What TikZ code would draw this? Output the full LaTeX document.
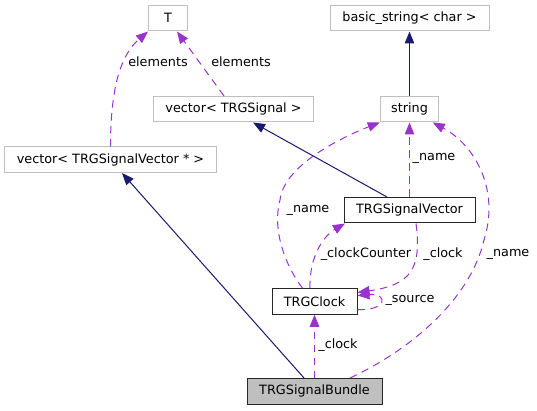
\documentclass[tikz,border=0pt]{standalone}
\usepackage{fontspec}
\setmainfont{DejaVu Sans}
\usetikzlibrary{arrows.meta}
\definecolor{inhcol}{HTML}{191970}
\definecolor{usecol}{HTML}{9A32CD}
\definecolor{graybox}{HTML}{BFBFBF}
\begin{document}
\begin{tikzpicture}[x=1pt,y=-1pt,
  font=\fontsize{12.8}{15}\selectfont,
  boxbase/.style={rectangle, inner sep=0pt, minimum height=25.5pt, line width=1pt},
  gbox/.style={boxbase, draw=graybox, fill=white},
  bbox/.style={boxbase, draw=black!85, fill=white},
  curbox/.style={boxbase, draw=black!85, fill=graybox},
  inh/.style={draw=inhcol, line width=1pt, -{Triangle[length=12pt,width=9.5pt]}},
  use/.style={draw=usecol, line width=1pt, dash pattern=on 7.5pt off 5.5pt, -{Triangle[length=12pt,width=9.5pt]}},
  lbl/.style={inner sep=0pt, text=black}]
\useasboundingbox (0,0) rectangle (537,411);

% nodes
\node[gbox, minimum width=39pt]  (T)      at (168,18.25)     {T};
\node[gbox, minimum width=159pt] (basic)  at (409.5,18.25)   {basic\_string< char >};
\node[gbox, minimum width=160pt] (vecSig) at (233.5,109.25)  {vector< TRGSignal >};
\node[gbox, minimum width=58.5pt](string) at (409.5,109.25)  {string};
\node[gbox, minimum width=212pt] (vecSV)  at (110.5,159.75)  {vector< TRGSignalVector * >};
\node[bbox, minimum width=131pt] (SV)     at (409.5,210.25)  {TRGSignalVector};
\node[bbox, minimum width=85pt]  (Clock)  at (314.5,301.5)   {TRGClock};
\node[curbox, minimum width=135pt](Bundle) at (314.5,391.25) {TRGSignalBundle};

% inheritance
\draw[inh] (string.north) -- (basic.south);
\draw[inh] ([xshift=-22.5pt]SV.north) -- ([xshift=19.5pt]vecSig.south);
\draw[inh] ([xshift=-10.5pt]Bundle.north) -- ([xshift=11.5pt]vecSV.south);

% usage
\draw[use] (vecSV.north) .. controls +(0,-57) and +(-28,24) .. (T.south west);
\draw[use] ([xshift=-9.5pt]vecSig.north) -- ([xshift=9pt]T.south);
\draw[use] (SV.north) -- (string.south);
\draw[use] ([xshift=-12pt]Clock.north) .. controls (285,265) and (272,230) .. (280,200)
  .. controls (284,163) and (350,134) .. (string.south west);
\draw[use] ([xshift=35.5pt]Bundle.north) .. controls (410,350) and (470,300) .. (484,240)
  .. controls (500,190) and (475,145) .. ([xshift=23.25pt]string.south);
\draw[use] ([xshift=-4.5pt]Clock.north) .. controls (309,255) and (325,235) .. ([xshift=1.5pt]SV.south west);
\draw[use] ([xshift=6.5pt]SV.south) .. controls (422,270) and (410,285) .. ([yshift=9pt]Clock.east);
\draw[use] ([yshift=-8pt]Clock.east) .. controls (388,311) and (388,293) .. ([yshift=6pt]Clock.east);
\draw[use] (Bundle.north) -- (Clock.south);

% labels
\node[lbl] (l1) at (158,62)  {elements};
\node[lbl] (l2) at (241,62)  {elements};
\node[lbl] (l3) at (434,158) {\_name};
\node[lbl] (l4) at (308,210) {\_name};
\node[lbl] (l5) at (366,254) {\_clockCounter};
\node[lbl] (l6) at (443,254) {\_clock};
\node[lbl] (l7) at (508,254) {\_name};
\node[lbl] (l8) at (410,300) {\_source};
\node[lbl] (l9) at (338,345) {\_clock};
\end{tikzpicture}
\end{document}
